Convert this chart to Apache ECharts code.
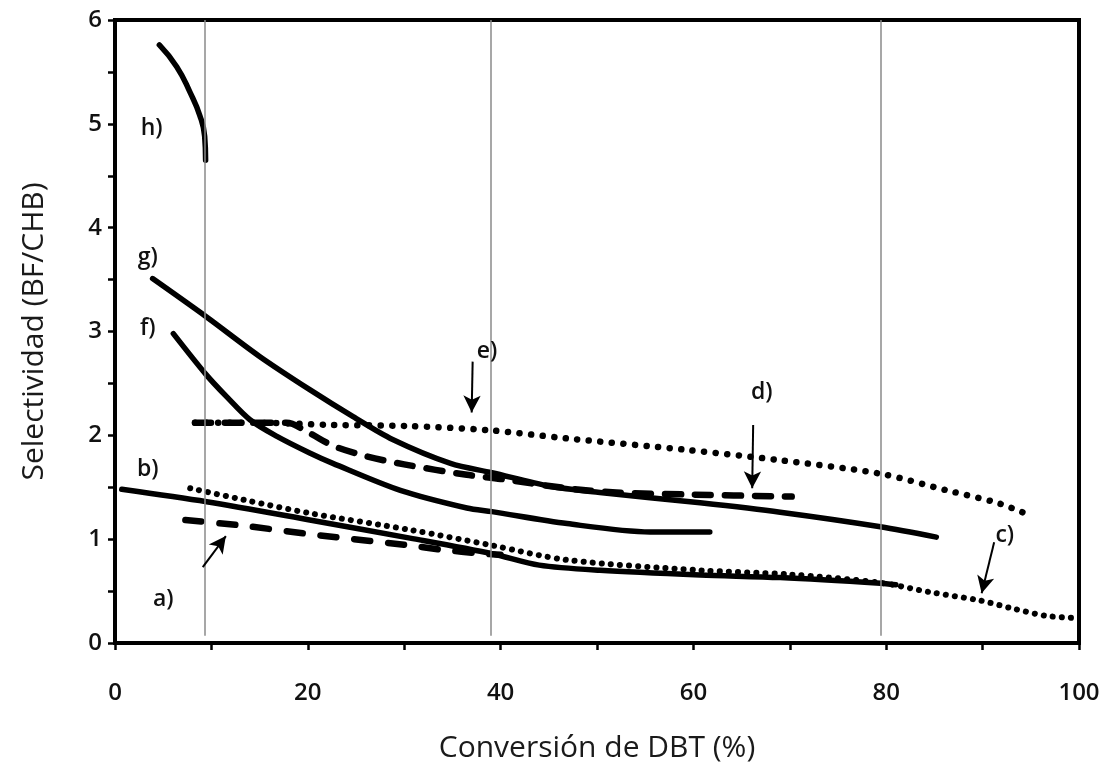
<!DOCTYPE html>
<html>
<head>
<meta charset="utf-8">
<script src="https://cdn.jsdelivr.net/npm/echarts@6/dist/echarts.min.js"></script>
<style>
  html, body { margin: 0; padding: 0; background: #fff; }
  #chart { width: 1109px; height: 768px; }
</style>
</head>
<body>
<div id="chart"></div>
<script>
// Selectividad BF/CHB frente a la conversión de DBT, curvas a) – h)
const xTicks = [0, 20, 40, 60, 80, 100];
const yTicks = [0, 1, 2, 3, 4, 5, 6];

const curveA = [[7.3, 1.185], [13.3, 1.13], [20.9, 1.04], [30.6, 0.94], [33.7, 0.90], [38.2, 0.86], [40.0, 0.85]];
const curveB = [[0.7, 1.48], [9.5, 1.36], [20.2, 1.185], [30.6, 1.01], [39.1, 0.86], [44.0, 0.75], [50.3, 0.70], [60.7, 0.655], [69.0, 0.63], [79.4, 0.575], [81.0, 0.56]];
const curveC = [[7.8, 1.49], [13.3, 1.38], [20.2, 1.25], [30.6, 1.09], [39.1, 0.94], [46.9, 0.80], [60.7, 0.70], [70.0, 0.66], [79.4, 0.58], [84.5, 0.49], [89.7, 0.41], [93.2, 0.33], [96.7, 0.26], [100, 0.24]];
const curveD = [[8.3, 2.12], [17.8, 2.12], [20.2, 2.02], [22.6, 1.90], [26.0, 1.80], [30.0, 1.72], [36.5, 1.62], [40.0, 1.58], [46.9, 1.49], [52.0, 1.45], [59.6, 1.43], [70.2, 1.41]];
const curveE = [[8.3, 2.12], [15.0, 2.12], [22.6, 2.10], [30.3, 2.09], [38.7, 2.05], [46.9, 1.97], [59.3, 1.86], [69.0, 1.76], [79.4, 1.63], [86.3, 1.47], [91.5, 1.35], [94.9, 1.23]];
const curveF = [[6.05, 2.98], [9.5, 2.58], [11.6, 2.37], [14.0, 2.15], [16.8, 1.99], [20.2, 1.83], [22.6, 1.73], [29.6, 1.47], [36.5, 1.30], [39.1, 1.265], [46.9, 1.15], [55.5, 1.07], [61.7, 1.07]];
const curveG = [[3.9, 3.51], [9.5, 3.14], [15.0, 2.76], [20.2, 2.44], [24.7, 2.18], [28.8, 1.96], [34.8, 1.73], [39.1, 1.64], [45.1, 1.51], [50.3, 1.45], [60.7, 1.35], [69.0, 1.26], [79.4, 1.12], [85.2, 1.02]];
const curveH = [[4.6, 5.76], [6.4, 5.55], [7.8, 5.30], [8.8, 5.08], [9.3, 4.88], [9.4, 4.65]];

// curve tags and the arrows pointing at their lines
const tagLabels = [[3.8, 4.96, 'h)'], [3.4, 3.71, 'g)'], [3.4, 3.03, 'f)'], [3.4, 1.67, 'b)'], [5.0, 0.42, 'a)'], [38.6, 2.81, 'e)'], [67.1, 2.41, 'd)'], [92.3, 1.04, 'c)']];
const arrows = [
  [[9.1, 0.73], [11.5, 1.03]],
  [[37.1, 2.71], [37.0, 2.22]],
  [[66.2, 2.10], [66.1, 1.49]],
  [[91.2, 0.97], [89.9, 0.48]]
];
const guideLines = [9.3, 39.0, 79.4];

const FONT = '"Open Sans", "Noto Sans", sans-serif';

function curve(name, data, lineStyle, smooth) {
  return {
    name, type: 'line', data, symbol: 'none',
    smooth: smooth === undefined ? 0.3 : smooth,
    lineStyle: Object.assign({ color: '#000', width: 5.5, cap: 'round', join: 'round' }, lineStyle),
    z: 3, silent: true
  };
}

const chart = echarts.init(document.getElementById('chart'), null, { renderer: 'canvas' });
chart.setOption({
  animation: false,
  backgroundColor: '#fff',
  grid: { left: 115, top: 20, right: 30, bottom: 125, show: true, borderColor: '#000', borderWidth: 4 },
  xAxis: {
    type: 'value', min: 0, max: 100, interval: 10,
    name: 'Conversión de DBT (%)', nameLocation: 'middle', nameGap: 90,
    nameTextStyle: { fontFamily: FONT, fontSize: 30, color: '#1a1a1a' },
    axisLine: { lineStyle: { color: '#000', width: 4 } },
    axisTick: { show: true, length: 7, lineStyle: { color: '#000', width: 2.5 } },
    axisLabel: {
      margin: 38, fontFamily: FONT, fontSize: 24, fontWeight: 600, color: '#111',
      formatter: v => xTicks.includes(v) ? String(v) : ''
    },
    splitLine: { show: false }
  },
  yAxis: {
    type: 'value', min: 0, max: 6, interval: 0.5,
    name: 'Selectividad (BF/CHB)', nameLocation: 'middle', nameGap: 66, nameRotate: 90,
    nameTextStyle: { fontFamily: FONT, fontSize: 30, color: '#1a1a1a' },
    axisLine: { lineStyle: { color: '#000', width: 4 } },
    axisTick: { show: true, length: 7, lineStyle: { color: '#000', width: 2.5 } },
    axisLabel: {
      margin: 13, fontFamily: FONT, fontSize: 24, fontWeight: 600, color: '#111',
      formatter: v => yTicks.includes(v) ? String(v) : ''
    },
    splitLine: { show: false }
  },
  series: [
    {
      name: 'guías', type: 'line', data: [], symbol: 'none', silent: true, z: 1,
      markLine: {
        silent: true, symbol: 'none', label: { show: false },
        lineStyle: { color: '#8a8a8a', width: 1.5, type: 'solid' },
        data: guideLines.map(x => [{ coord: [x, 6] }, { coord: [x, 0.07] }])
      }
    },
    curve('a)', curveA, { type: [16, 18], width: 6.5 }, 0.2),
    curve('b)', curveB, { width: 5.5 }),
    curve('c)', curveC, { type: [0.1, 9], width: 6 }),
    curve('d)', curveD, { type: [16, 14], width: 6.5 }),
    curve('e)', curveE, { type: [0.1, 11.5], width: 6.5 }),
    curve('f)', curveF, { width: 5.5 }),
    curve('g)', curveG, { width: 5.5 }),
    curve('h)', curveH, { width: 5.5 }, 0.5),
    {
      name: 'etiquetas', type: 'scatter', symbolSize: 0, silent: true, z: 5,
      data: tagLabels,
      itemStyle: { opacity: 1 },
      label: {
        show: true, position: 'inside', formatter: p => p.data[2],
        fontFamily: FONT, fontSize: 23, fontWeight: 600, color: '#111', opacity: 1
      },
      markLine: {
        silent: true, symbol: ['none', 'arrow'], symbolSize: [13, 17],
        label: { show: false },
        lineStyle: { color: '#000', width: 2, type: 'solid', opacity: 1 },
        data: arrows.map(([s, e]) => [{ coord: s }, { coord: e }])
      }
    }
  ]
});
</script>
</body>
</html>
